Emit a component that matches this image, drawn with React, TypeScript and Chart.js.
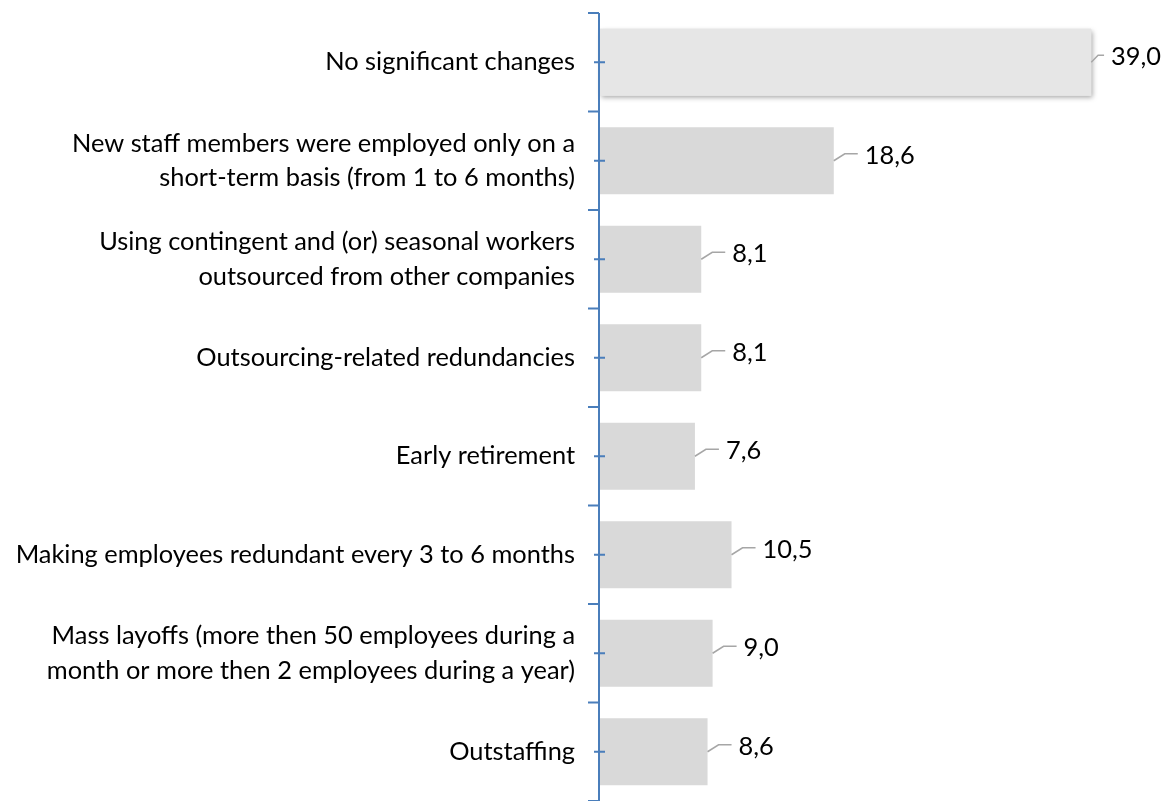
import React, { useEffect, useRef } from "react";
import { Chart, registerables } from "chart.js";

Chart.register(...registerables);

const categories: string[][] = [
  ["No significant changes"],
  ["New staff members were employed only on a", "short-term basis (from 1 to 6 months)"],
  ["Using contingent and (or) seasonal workers", "outsourced from other companies"],
  ["Outsourcing-related redundancies"],
  ["Early retirement"],
  ["Making employees redundant every 3 to 6 months"],
  ["Mass layoffs (more then 50 employees during a", "month or more then 2 employees during a year)"],
  ["Outstaffing"],
];

const values: number[] = [39.0, 18.6, 8.1, 8.1, 7.6, 10.5, 9.0, 8.6];

const barColors: string[] = ["#e6e6e6", "#d9d9d9", "#d9d9d9", "#d9d9d9", "#d9d9d9", "#d9d9d9", "#d9d9d9", "#d9d9d9"];

const FONT = "Lato";
const FONT_SIZE = 25.4;
const AXIS_COLOR = "#4a7ebb";

const fmt = (v: number) => v.toFixed(1).replace(".", ",");

const decorPlugin = {
  id: "decor",
  beforeDatasetsDraw(chart: any) {
    const meta = chart.getDatasetMeta(0);
    const el = meta.data[0];
    if (!el) return;
    const ctx = chart.ctx;
    const { x, y, base, height } = el.getProps(["x", "y", "base", "height"], true);
    ctx.save();
    ctx.shadowColor = "rgba(0,0,0,0.35)";
    ctx.shadowBlur = 5;
    ctx.shadowOffsetX = 2;
    ctx.shadowOffsetY = 2;
    ctx.fillStyle = barColors[0];
    ctx.fillRect(base, y - height / 2, x - base, height);
    ctx.restore();
  },
  afterDraw(chart: any) {
    const ctx = chart.ctx;
    const ys = chart.scales.y;
    const xs = chart.scales.x;
    const axisX = xs.getPixelForValue(0);
    const n = categories.length;
    const step = (ys.bottom - ys.top) / n;
    ctx.save();
    ctx.strokeStyle = AXIS_COLOR;
    ctx.lineWidth = 2;
    ctx.beginPath();
    ctx.moveTo(axisX, ys.top);
    ctx.lineTo(axisX, ys.bottom);
    ctx.stroke();
    ctx.beginPath();
    for (let i = 0; i <= n; i++) {
      const by = ys.top + i * step;
      ctx.moveTo(axisX - 11, by);
      ctx.lineTo(axisX, by);
    }
    for (let i = 0; i < n; i++) {
      const cy = ys.getPixelForValue(i);
      ctx.moveTo(axisX - 5, cy);
      ctx.lineTo(axisX + 6, cy);
    }
    ctx.stroke();

    // data labels with leader lines
    const meta = chart.getDatasetMeta(0);
    ctx.font = `${FONT_SIZE}px ${FONT}`;
    ctx.fillStyle = "#000";
    ctx.textBaseline = "middle";
    ctx.textAlign = "left";
    meta.data.forEach((el: any, i: number) => {
      const { x, y } = el.getProps(["x", "y"], true);
      const txt = fmt(values[i]);
      const w = ctx.measureText(txt).width;
      const tx = Math.min(x + 31, chart.width - w - 6);
      const lineEnd = tx - 7;
      const bend = Math.min(x + 11, lineEnd - 6);
      ctx.strokeStyle = "#a6a6a6";
      ctx.lineWidth = 1.5;
      ctx.beginPath();
      ctx.moveTo(x, y);
      ctx.lineTo(bend, y - 7);
      ctx.lineTo(lineEnd, y - 7);
      ctx.stroke();
      ctx.fillText(txt, tx, y - 5);
    });
    ctx.restore();
  },
};

export default function App() {
  const ref = useRef<HTMLCanvasElement>(null);
  useEffect(() => {
    document.body.style.margin = "0";
    const chart = new Chart(ref.current!, {
      type: "bar",
      data: {
        labels: categories,
        datasets: [
          {
            data: values,
            backgroundColor: barColors,
            borderWidth: 0,
            barPercentage: 0.68,
            categoryPercentage: 1,
          },
        ],
      },
      options: {
        indexAxis: "y",
        animation: false,
        responsive: false,
        maintainAspectRatio: false,
        layout: { padding: { top: 13, right: 0, bottom: 0, left: 0 } },
        plugins: { legend: { display: false }, tooltip: { enabled: false } },
        scales: {
          x: { display: false, min: 0, max: 45 },
          y: {
            grid: { display: false, drawTicks: false },
            border: { display: false },
            afterFit(scale: any) {
              scale.width = 599;
              scale.paddingTop = 0;
              scale.paddingBottom = 0;
            },
            ticks: {
              padding: 24,
              color: "#000",
              font: { family: FONT, size: FONT_SIZE, lineHeight: 1.36 },
              autoSkip: false,
            },
          },
        },
      },
      plugins: [decorPlugin],
    });
    return () => chart.destroy();
  }, []);
  return (
    <div style={{ width: 1167, height: 801 }}>
      <canvas ref={ref} width={1167} height={801} style={{ display: "block" }} />
    </div>
  );
}
